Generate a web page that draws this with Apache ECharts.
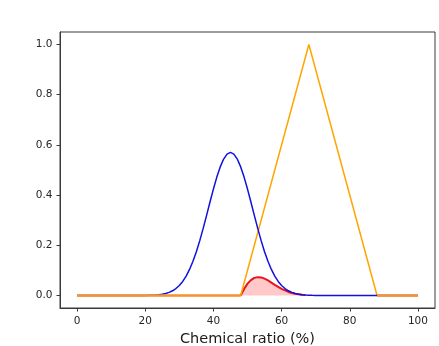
<!DOCTYPE html>
<html>
<head>
<meta charset="utf-8">
<script src="https://cdn.jsdelivr.net/npm/echarts@6/dist/echarts.min.js"></script>
<style>
  html, body { margin: 0; padding: 0; background: #fff; }
  #chart { width: 439px; height: 346px; }
</style>
</head>
<body>
<div id="chart"></div>
<script>
// x positions 0..100 step 1
const xs = Array.from({ length: 101 }, (_, i) => i)

// blue curve, nonzero from x=20 to x=70
const blueStart = 20
const blueVals = [
  0.0003, 0.0006, 0.0011, 0.0019, 0.0031, 0.0050, 0.0080, 0.0123, 0.0186, 0.0276,
  0.0398, 0.0560, 0.0771, 0.1037, 0.1362, 0.1745, 0.2185, 0.2673, 0.3192, 0.3723,
  0.4240, 0.4717, 0.5124, 0.5436, 0.5633, 0.5700, 0.5633, 0.5436, 0.5124, 0.4717,
  0.4240, 0.3723, 0.3192, 0.2673, 0.2185, 0.1745, 0.1362, 0.1037, 0.0771, 0.0560,
  0.0398, 0.0276, 0.0186, 0.0123, 0.0080, 0.0050, 0.0031, 0.0019, 0.0011, 0.0006,
  0.0003
]

// red curve, from x=48 to x=67
const redStart = 48
const redVals = [
  0, 0.026, 0.047, 0.061, 0.070, 0.073, 0.072, 0.067, 0.060, 0.051,
  0.042, 0.034, 0.026, 0.020, 0.014, 0.010, 0.007, 0.005, 0.003, 0.002
]

// triangle corners
const triX = [0, 48, 68, 88, 100]
const triY = [0, 0, 1, 0, 0]

// thick zero segments outside the triangle
const zeroLeft = [[0, 0], [48, 0]]
const zeroRight = [[88, 0], [100, 0]]

const xTicks = [0, 20, 40, 60, 80, 100]
const yTicks = [0, 0.2, 0.4, 0.6, 0.8, 1.0]

const blueData = xs.map(x => {
  const i = x - blueStart
  return [x, i >= 0 && i < blueVals.length ? blueVals[i] : 0]
})
const redData = redVals.map((v, i) => [redStart + i, v])
const triData = triX.map((x, i) => [x, triY[i]])

const chart = echarts.init(document.getElementById('chart'))

const axisText = { fontSize: 10.5, color: '#262626', fontFamily: 'DejaVu Sans' }

chart.setOption({
  animation: false,
  grid: {
    left: 60, right: 4, top: 32, bottom: 38,
    outerBoundsMode: 'none',
    containLabel: false,
    show: true, borderColor: '#3a3a3a', borderWidth: 1
  },
  xAxis: {
    type: 'value', min: -5, max: 105,
    name: 'Chemical ratio (%)',
    nameLocation: 'middle',
    nameGap: 23,
    nameTextStyle: { fontSize: 14.5, color: '#1a1a1a', fontFamily: 'DejaVu Sans' },
    axisLine: { onZero: false, lineStyle: { color: '#3a3a3a', width: 1 } },
    axisTick: { show: true, length: 3.5, customValues: xTicks, lineStyle: { color: '#3a3a3a' } },
    axisLabel: { ...axisText, margin: 8, customValues: xTicks, formatter: v => String(v) },
    splitLine: { show: false }
  },
  yAxis: {
    type: 'value', min: -0.05, max: 1.05,
    axisLine: { show: true, onZero: false, lineStyle: { color: '#3a3a3a', width: 1 } },
    axisTick: { show: true, length: 3.5, customValues: yTicks, lineStyle: { color: '#3a3a3a' } },
    axisLabel: { ...axisText, margin: 7.5, customValues: yTicks, formatter: v => v.toFixed(1) },
    splitLine: { show: false }
  },
  series: [
    {
      type: 'line', data: redData, showSymbol: false, z: 2,
      lineStyle: { color: '#e8141c', width: 2 },
      areaStyle: { color: 'rgba(255,0,0,0.3)', origin: 0 }
    },
    {
      type: 'line', data: triData, showSymbol: false, z: 3,
      lineStyle: { color: '#ffa500', width: 1.5 }
    },
    {
      type: 'line', data: blueData, showSymbol: false, z: 4,
      lineStyle: { color: '#1010e0', width: 1.5 }
    },
    {
      type: 'line', data: zeroLeft, showSymbol: false, z: 5,
      lineStyle: { color: '#f29437', width: 2.5 }
    },
    {
      type: 'line', data: zeroRight, showSymbol: false, z: 5,
      lineStyle: { color: '#f29437', width: 2.5 }
    }
  ]
})
</script>
</body>
</html>
